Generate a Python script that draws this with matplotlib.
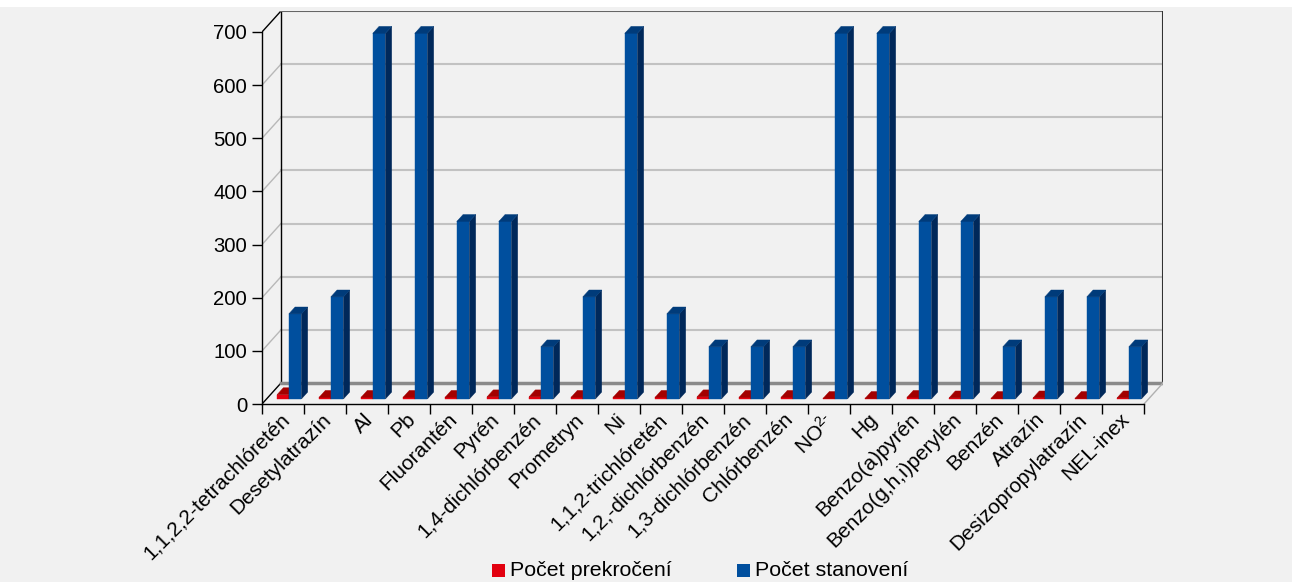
import matplotlib
matplotlib.use("Agg")
import matplotlib.pyplot as plt
from matplotlib.patches import Polygon, Rectangle
import numpy as np

plt.rcParams['font.family'] = ['Liberation Sans', 'DejaVu Sans']
plt.rcParams['mathtext.fontset'] = 'custom'
plt.rcParams['mathtext.rm'] = 'Liberation Sans'
plt.rcParams['mathtext.it'] = 'Liberation Sans'

categories = ['1,1,2,2-tetrachlóretén', 'Desetylatrazín', 'Al', 'Pb', 'Fluorantén',
              'Pyrén', '1,4-dichlórbenzén', 'Prometryn', 'Ni', '1,1,2-trichlóretén',
              '1,2,-dichlórbenzén', '1,3-dichlórbenzén', 'Chlórbenzén', r'NO$^{2\text{-}}$',
              'Hg', 'Benzo(a)pyrén', 'Benzo(g,h,i)perylén', 'Benzén', 'Atrazín',
              'Desizopropylatrazín', 'NEL-inex']
prekrocenie = [8, 3, 3, 3, 3, 4, 4, 3, 3, 3, 4, 3, 3, 1, 1, 3, 2, 1, 2, 1, 2]
stanovenie = [160, 192, 688, 688, 334, 334, 98, 192, 688, 160, 98, 98, 98,
              688, 688, 334, 334, 98, 192, 192, 98]
yticks = [0, 100, 200, 300, 400, 500, 600, 700]
legend_labels = ['Počet prekročení', 'Počet stanovení']

# pseudo-3D depth offsets (category units / value units)
DX, DY = 0.452, 39.5
F0, F1 = 0.24, 0.57
n = len(categories)
ymax = 700

BG = '#f1f1f1'
fig = plt.figure(figsize=(12.92, 5.82), dpi=100, facecolor=BG)
fig.patches.append(Rectangle((0, 1 - 7 / 582), 1, 7 / 582, transform=fig.transFigure,
                             facecolor='white', edgecolor='none'))

ax = fig.add_axes([262 / 1292, (582 - 404) / 582, (1163 - 262) / 1292, (404 - 11) / 582])
ax.set_xlim(0, n + DX)
ax.set_ylim(0, ymax + DY)
ax.set_facecolor('none')
for s in ['top', 'right']:
    ax.spines[s].set_visible(False)
ax.spines['left'].set_bounds(0, ymax)
ax.spines['bottom'].set_bounds(0, n)
for s in ['left', 'bottom']:
    ax.spines[s].set_color('black')
    ax.spines[s].set_linewidth(1)

ax.set_yticks(yticks)
ax.set_yticklabels([str(v) for v in yticks], fontsize=14.6, color='black')
ax.set_xticks(np.arange(n + 1))
ax.set_xticklabels([])
ax.tick_params(axis='both', direction='out', length=7.2, width=1, color='black')
ax.tick_params(axis='y', pad=3.5)

# back wall grid + left wall diagonals
for v in yticks[1:-1]:
    ax.plot([DX, n + DX], [v + DY, v + DY], color='#c2c2c2', lw=1.5, zorder=1)
    ax.plot([0, DX], [v, v + DY], color='#b8b8b8', lw=1, zorder=1)
ax.plot([0, DX], [ymax, ymax + DY], color='black', lw=1, zorder=2)
ax.plot([0, DX], [0, DY], color='black', lw=1, zorder=2)
ax.plot([DX, DX], [DY, ymax + DY], color='black', lw=1, zorder=2)
ax.plot([DX, n + DX], [ymax + DY, ymax + DY], color='#666666', lw=1.5, zorder=2)
ax.plot([n + DX, n + DX], [DY, ymax + DY], color='#333333', lw=1.5, zorder=2)
ax.plot([DX, n + DX], [DY, DY], color='#8a8a8a', lw=2.5, zorder=2)
ax.plot([n, n + DX], [0, DY], color='#b0b0b0', lw=1, zorder=2)


def bar3d(x0, x1, v, front, side, top):
    fx0, fx1 = x0 + F0 * DX, x1 + F0 * DX
    bx0, bx1 = x0 + F1 * DX, x1 + F1 * DX
    fy, by = F0 * DY, F1 * DY
    faces = [
        ([(fx0, fy), (fx1, fy), (fx1, v + fy), (fx0, v + fy)], front),
        ([(fx1, fy), (bx1, by), (bx1, v + by), (fx1, v + fy)], side),
        ([(fx0, v + fy), (fx1, v + fy), (bx1, v + by), (bx0, v + by)], top),
    ]
    for pts, c in faces:
        ax.add_patch(Polygon(pts, closed=True, facecolor=c, edgecolor=c,
                             lw=0.3, zorder=5, clip_on=False))


for i in range(n):
    bar3d(i + 0.25, i + 0.53, prekrocenie[i], '#e2000f', '#8c0000', '#a30000')
    bar3d(i + 0.53, i + 0.83, stanovenie[i], '#004f9e', '#00285a', '#003b7a')

for i, lab in enumerate(categories):
    ax.text(i + 0.74, -11, lab, rotation=45, ha='right', va='top',
            fontsize=15, color='black', clip_on=False)

# legend at the bottom
colors = ['#e2000f', '#004f9e']
lx = [492, 737]
for x, c, lab in zip(lx, colors, legend_labels):
    fig.patches.append(Rectangle((x / 1292, 5 / 582), 13 / 1292, 13 / 582,
                                 transform=fig.transFigure, facecolor=c, edgecolor='none'))
    fig.text((x + 18) / 1292, 5.5 / 582, lab, fontsize=15.4, color='black',
             ha='left', va='baseline')

fig.savefig('out.png', dpi=100, facecolor=BG)
